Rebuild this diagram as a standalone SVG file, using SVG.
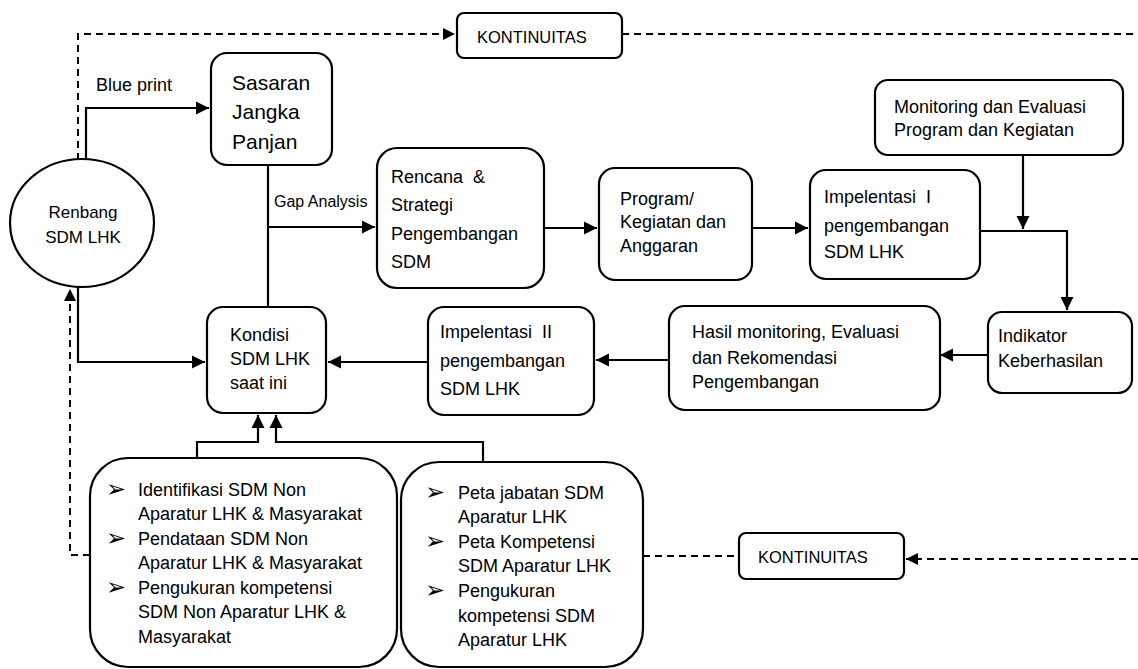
<svg xmlns="http://www.w3.org/2000/svg" width="1138" height="669" viewBox="0 0 1138 669">
<style>
.b{fill:#fff;stroke:#000;stroke-width:2.2}
.c{fill:none;stroke:#000;stroke-width:2.2}
.d{fill:none;stroke:#000;stroke-width:2;stroke-dasharray:7 5}
text{font-family:"Liberation Sans",Arial,sans-serif;font-size:18px;fill:#000;white-space:pre}
.big{font-size:21px}
.sm{font-size:16px}
.k{font-size:16.5px}
.r{font-size:17px}
.bul{font-family:"DejaVu Sans",sans-serif;font-size:24px}
</style>
<defs>
<marker id="a" viewBox="0 0 10 10" refX="10" refY="5" markerWidth="6" markerHeight="6" markerUnits="strokeWidth" orient="auto"><path d="M0,0L10,5L0,10z" fill="#000"/></marker>
</defs>
<g id="connectors">
<path class="d" d="M78,160V34H455" marker-end="url(#a)"/>
<path class="d" d="M622,34H1138"/>
<path class="c" d="M86,160V108H209" marker-end="url(#a)"/>
<path class="c" d="M268,165V307"/>
<path class="c" d="M268,227H375" marker-end="url(#a)"/>
<path class="c" d="M78,287V362H205" marker-end="url(#a)"/>
<path class="d" d="M90,555H70V289" marker-end="url(#a)"/>
<path class="c" d="M545,228H597" marker-end="url(#a)"/>
<path class="c" d="M752,228H808" marker-end="url(#a)"/>
<path class="c" d="M1023,155V229" marker-end="url(#a)"/>
<path class="c" d="M980,231H1067V310" marker-end="url(#a)"/>
<path class="c" d="M988,355H940" marker-end="url(#a)"/>
<path class="c" d="M669,360H596" marker-end="url(#a)"/>
<path class="c" d="M428,362H328" marker-end="url(#a)"/>
<path class="c" d="M197,458V442H258V415" marker-end="url(#a)"/>
<path class="c" d="M483,462V442H276V415" marker-end="url(#a)"/>
<path class="d" d="M643,556H739"/>
<path class="d" d="M1138,559H906" marker-end="url(#a)"/>
<text x="96" y="91">Blue print</text>
<text class="sm" x="274" y="207">Gap Analysis</text>
</g>
<g id="kontinuitas-top">
<rect class="b" x="457" y="13" width="165" height="45" rx="7"/>
<text class="k" x="477" y="43">KONTINUITAS</text>
</g>
<g id="sasaran">
<rect class="b" x="211" y="53" width="121" height="112" rx="16"/>
<text class="big" x="232" y="90">Sasaran</text>
<text class="big" x="232" y="119">Jangka</text>
<text class="big" x="232" y="149">Panjan</text>
</g>
<g id="renbang">
<ellipse class="b" cx="82" cy="223" rx="72" ry="64"/>
<text class="r" x="83" y="218" text-anchor="middle">Renbang</text>
<text class="r" x="83" y="243" text-anchor="middle">SDM LHK</text>
</g>
<g id="rencana">
<rect class="b" x="377" y="148" width="167" height="140" rx="20"/>
<text x="391" y="183">Rencana  &amp;</text>
<text x="391" y="211">Strategi</text>
<text x="391" y="240">Pengembangan</text>
<text x="391" y="268">SDM</text>
</g>
<g id="program">
<rect class="b" x="599" y="168" width="153" height="112" rx="16"/>
<text x="620" y="205">Program/</text>
<text x="620" y="228">Kegiatan dan</text>
<text x="620" y="252">Anggaran</text>
</g>
<g id="impl1">
<rect class="b" x="810" y="170" width="170" height="109" rx="16"/>
<text x="824" y="203">Impelentasi  I</text>
<text x="824" y="232">pengembangan</text>
<text x="824" y="258">SDM LHK</text>
</g>
<g id="monitoring">
<rect class="b" x="875" y="80" width="248" height="75" rx="13"/>
<text x="894" y="113">Monitoring dan Evaluasi</text>
<text x="894" y="136">Program dan Kegiatan</text>
</g>
<g id="indikator">
<rect class="b" x="988" y="312" width="144" height="81" rx="14"/>
<text x="998" y="342">Indikator</text>
<text x="998" y="367">Keberhasilan</text>
</g>
<g id="hasil">
<rect class="b" x="669" y="306" width="271" height="104" rx="16"/>
<text x="692" y="338">Hasil monitoring, Evaluasi</text>
<text x="692" y="364">dan Rekomendasi</text>
<text x="692" y="388">Pengembangan</text>
</g>
<g id="impl2">
<rect class="b" x="428" y="307" width="166" height="108" rx="16"/>
<text x="440" y="338">Impelentasi  II</text>
<text x="440" y="367">pengembangan</text>
<text x="440" y="395">SDM LHK</text>
</g>
<g id="kondisi">
<rect class="b" x="207" y="307" width="119" height="106" rx="16"/>
<text x="230" y="341">Kondisi</text>
<text x="230" y="365">SDM LHK</text>
<text x="230" y="389">saat ini</text>
</g>
<g id="non-aparatur">
<rect class="b" x="90" y="458" width="307" height="209" rx="38"/>
<text class="bul" x="106" y="497">➢</text>
<text x="138" y="496">Identifikasi SDM Non</text>
<text x="138" y="520">Aparatur LHK &amp; Masyarakat</text>
<text class="bul" x="106" y="546">➢</text>
<text x="138" y="545">Pendataan SDM Non</text>
<text x="138" y="569">Aparatur LHK &amp; Masyarakat</text>
<text class="bul" x="106" y="595">➢</text>
<text x="138" y="594">Pengukuran kompetensi</text>
<text x="138" y="618">SDM Non Aparatur LHK &amp;</text>
<text x="138" y="643">Masyarakat</text>
</g>
<g id="aparatur">
<rect class="b" x="401" y="462" width="242" height="205" rx="38"/>
<text class="bul" x="425" y="500">➢</text>
<text x="458" y="499">Peta jabatan SDM</text>
<text x="458" y="523">Aparatur LHK</text>
<text class="bul" x="425" y="549">➢</text>
<text x="458" y="548">Peta Kompetensi</text>
<text x="458" y="572">SDM Aparatur LHK</text>
<text class="bul" x="425" y="598">➢</text>
<text x="458" y="597">Pengukuran</text>
<text x="458" y="622">kompetensi SDM</text>
<text x="458" y="646">Aparatur LHK</text>
</g>
<g id="kontinuitas-bottom">
<rect class="b" x="739" y="533" width="165" height="46" rx="7"/>
<text class="k" x="758" y="563">KONTINUITAS</text>
</g>
</svg>
